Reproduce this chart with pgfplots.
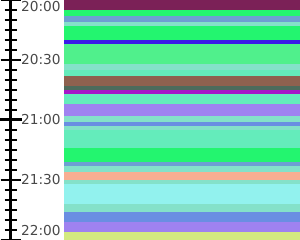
\documentclass[border=0pt]{standalone}
\usepackage{pgfplots}
\pgfplotsset{compat=1.18}
\usepackage{fontspec}
\setmainfont{DejaVu Sans}
\definecolor{cPurple}{HTML}{7B2157}
\definecolor{cGreen}{HTML}{23F56F}
\definecolor{cSteel}{HTML}{6E9FD2}
\definecolor{cPale}{HTML}{84E1C9}
\definecolor{cBlue}{HTML}{3A1BE8}
\definecolor{cGreenB}{HTML}{50F08C}
\definecolor{cAqua}{HTML}{64ECBB}
\definecolor{cBrown}{HTML}{8E614F}
\definecolor{cDark}{HTML}{4C6B5C}
\definecolor{cMagenta}{HTML}{A617C8}
\definecolor{cLav}{HTML}{9F82F0}
\definecolor{cCorn}{HTML}{6A8EE2}
\definecolor{cSalmon}{HTML}{F8AE92}
\definecolor{cCyan}{HTML}{92F2EE}
\definecolor{cYellow}{HTML}{D3EA80}
\definecolor{labelgray}{HTML}{484848}
\newcommand{\stripe}[3]{\addplot[fill=#1, draw=#1, line width=0.3pt] coordinates {(64,#2) (300,#2) (300,#3) (64,#3)} -- cycle;}
\begin{document}
\begin{tikzpicture}
\begin{axis}[
  scale only axis,
  width=289.5pt, height=240pt,
  xmin=10.5, xmax=300, ymin=0, ymax=120,
  y dir=reverse,
  axis x line=none,
  axis y line=left,
  axis line style={-, line width=3pt, black},
  ytick={0,30,60,90,120},
  minor ytick={5,10,15,20,25,35,40,45,50,55,65,70,75,80,85,95,100,105,110,115},
  yticklabels={{\raisebox{-12pt}[0pt][0pt]{20:00}},{20:30},{21:00},{21:30},{\raisebox{4pt}[0pt][0pt]{22:00}}},
  extra y ticks={60},
  extra y tick labels={},
  extra y tick style={major tick length=22pt, every tick/.style={black, line width=3pt}},
  tick align=center,
  major tick length=20pt,
  minor tick length=12pt,
  every tick/.style={black, line width=2pt},
  yticklabel style={anchor=west, inner sep=0pt, xshift=20.5pt, text=labelgray, font=\fontsize{13.7}{16}\selectfont},
  clip=false,
]
\stripe{cPurple}{0}{5}
\stripe{cGreen}{5}{8}
\stripe{cSteel}{8}{11}
\stripe{cPale}{11}{13}
\stripe{cGreen}{13}{20}
\stripe{cBlue}{20}{22}
\stripe{cGreenB}{22}{32}
\stripe{cPale}{32}{35}
\stripe{cAqua}{35}{38}
\stripe{cBrown}{38}{43}
\stripe{cDark}{43}{45}
\stripe{cMagenta}{45}{47}
\stripe{cAqua}{47}{52}
\stripe{cLav}{52}{58}
\stripe{cPale}{58}{61}
\stripe{cCorn}{61}{63}
\stripe{cPale}{63}{65}
\stripe{cAqua}{65}{74}
\stripe{cGreen}{74}{81}
\stripe{cSteel}{81}{83}
\stripe{cPale}{83}{86}
\stripe{cSalmon}{86}{90}
\stripe{cPale}{90}{92}
\stripe{cCyan}{92}{102}
\stripe{cPale}{102}{106}
\stripe{cCorn}{106}{111}
\stripe{cLav}{111}{116}
\stripe{cYellow}{116}{120}
\end{axis}
\pgfresetboundingbox
\path (current axis.south west) ++(-10.5pt,0pt) rectangle (current axis.north east);
\end{tikzpicture}
\end{document}
